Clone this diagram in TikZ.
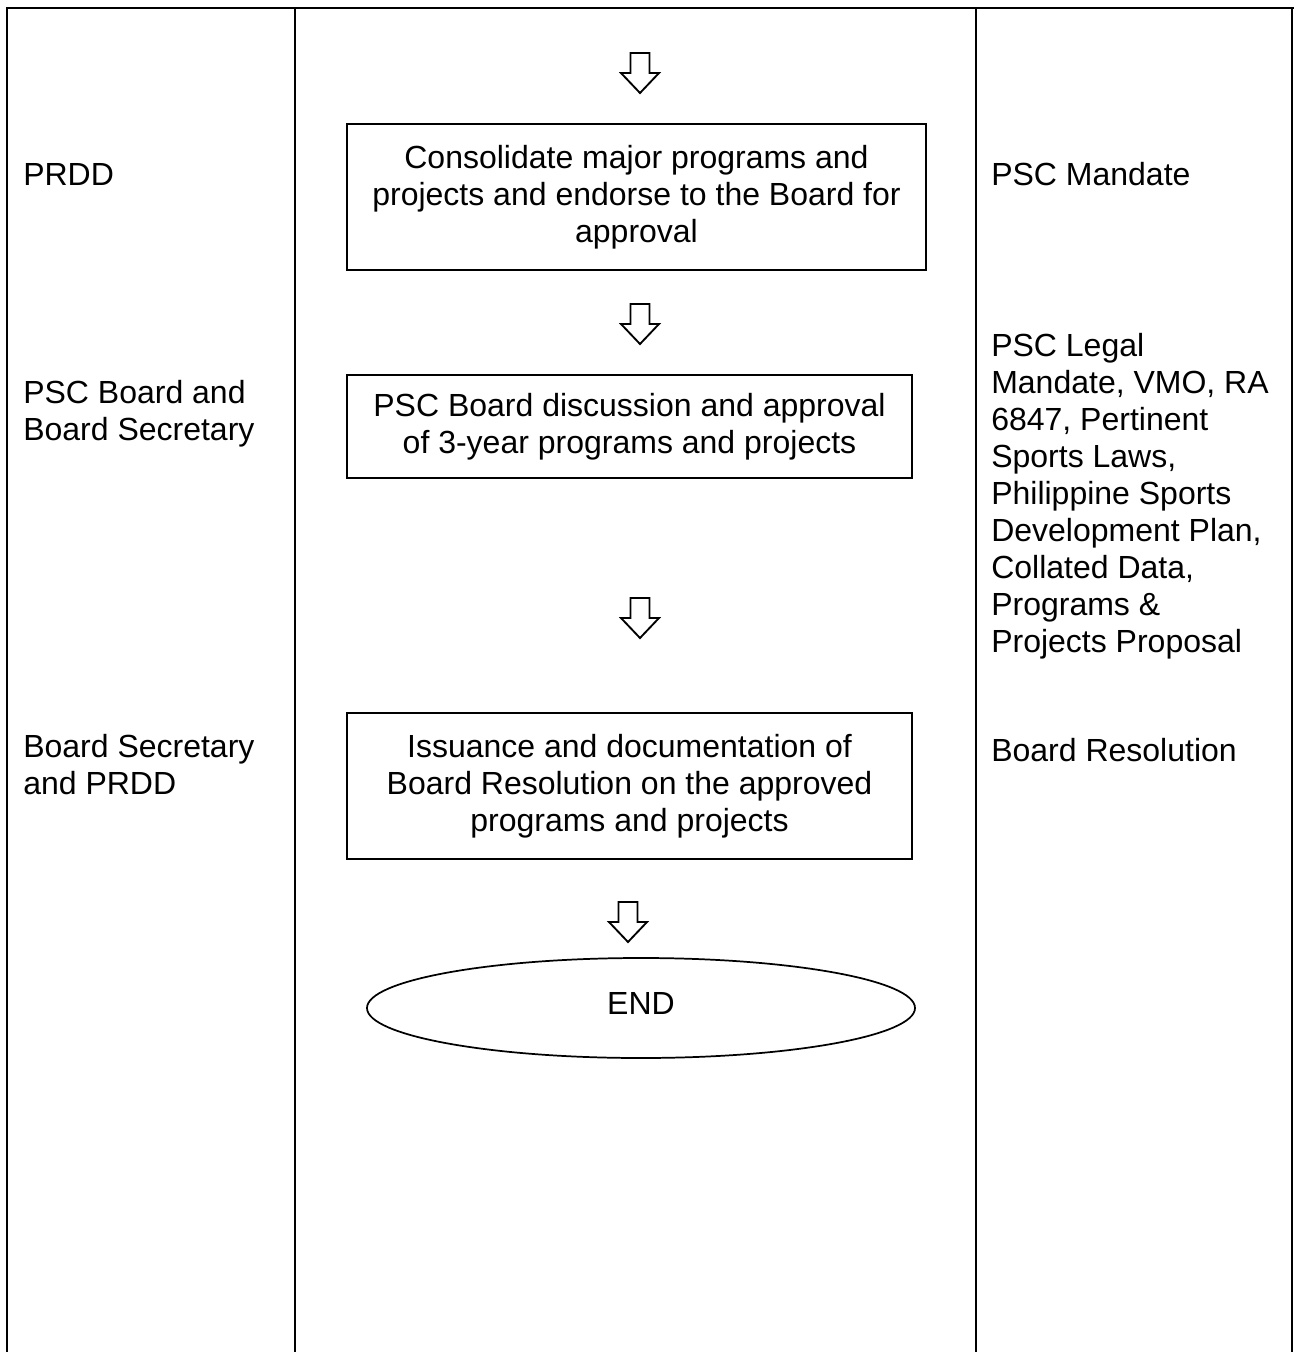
\documentclass[tikz,border=0pt]{standalone}
\usepackage{fontspec}
\setmainfont{Liberation Sans}
\usetikzlibrary{shapes.geometric}
\begin{document}
\begin{tikzpicture}[x=0.75pt,y=-0.75pt,
  every node/.style={font=\fontsize{24}{27.75}\selectfont, inner sep=0pt},
  tableline/.style={line width=2.1pt},
  stepbox/.style={draw, line width=1.5pt, align=center},
  endbox/.style={draw, ellipse, line width=1.3pt},
  lbl/.style={anchor=base west, align=left},
  hollowarrow/.pic={\draw[line width=1.4pt, line join=miter] (-9.5,0) -- (9.5,0) -- (9.5,20) -- (19,20) -- (0,40) -- (-19,20) -- (-9.5,20) -- cycle;}
]
\useasboundingbox (0,0) rectangle (1293,1352);
% table frame
\draw[tableline] (7,1360) -- (7,8) -- (1300,8);
\draw[tableline] (295,8) -- (295,1360);
\draw[tableline] (976,8) -- (976,1360);
\draw[tableline] (1292,8) -- (1292,1360);

% left column (base anchor = last line baseline)
\node[lbl] (r1) at (23,185.5) {PRDD};
\node[lbl] (r2) at (23,440) {PSC Board and\\Board Secretary};
\node[lbl] (r3) at (23,794) {Board Secretary\\and PRDD};

% right column
\node[lbl] (d1) at (991,185.5) {PSC Mandate};
\node[lbl] (d2) at (991,652) {PSC Legal\\Mandate, VMO, RA\\6847, Pertinent\\Sports Laws,\\Philippine Sports\\Development Plan,\\Collated Data,\\Programs \&\\Projects Proposal};
\node[lbl] (d3) at (991,761) {Board Resolution};

% flow
\pic at (640,53) {hollowarrow};
\node[stepbox, minimum width=434.25pt, minimum height=109.5pt] (b1) at (636.5,197)
  {Consolidate major programs and\\projects and endorse to the Board for\\approval};
\pic at (640,304) {hollowarrow};
\node[stepbox, minimum width=423.75pt, minimum height=77.25pt] (b2) at (629.5,426.5)
  {PSC Board discussion and approval\\of 3-year programs and projects};
\pic at (640,598) {hollowarrow};
\node[stepbox, minimum width=423.75pt, minimum height=109.5pt] (b3) at (629.5,786)
  {Issuance and documentation of\\Board Resolution on the approved\\programs and projects};
\pic at (628,902) {hollowarrow};
\node[endbox, minimum width=411pt, minimum height=75pt] (e) at (641,1008) {};
\node (et) at (641,1003) {END};
\end{tikzpicture}
\end{document}
